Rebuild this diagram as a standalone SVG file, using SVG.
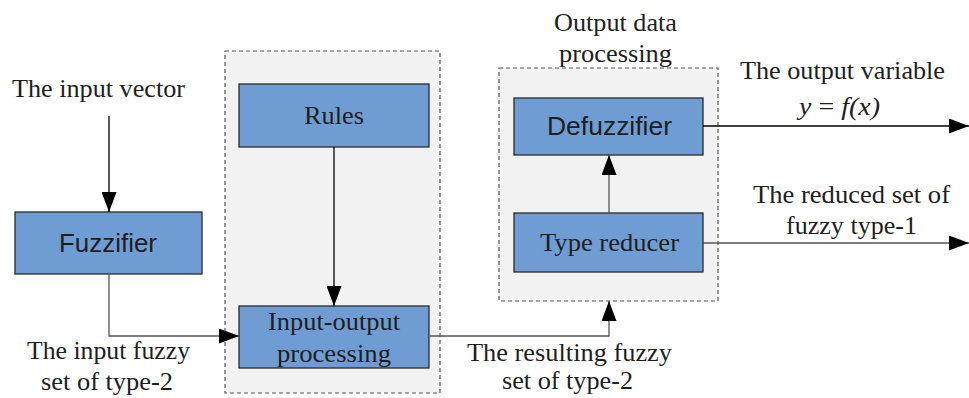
<svg xmlns="http://www.w3.org/2000/svg" width="969" height="398" viewBox="0 0 969 398">
<style>
.grp{fill:#f2f2f2;stroke:#555;stroke-width:1.2;stroke-dasharray:4,3}
.box{fill:#6f9dd3;stroke:#2a2a2a;stroke-width:1.3}
.t{font-family:"Liberation Serif","Times New Roman",serif;font-size:26px;fill:#1e1e1e}
.s{font-family:"Liberation Sans",Arial,sans-serif;font-size:25px;fill:#1e1e1e}
.ln{fill:none;stroke:#000;stroke-width:1.3}
.lg{fill:none;stroke:#555;stroke-width:1.3}
</style>
<defs>
<marker id="ah" markerWidth="20" markerHeight="15" refX="20" refY="7.5" orient="auto" markerUnits="userSpaceOnUse">
<path d="M0,0 L20,7.5 L0,15 Z" fill="#000"/>
</marker>
</defs>
<rect width="969" height="398" fill="#fff"/>
<g id="group-inference">
<rect class="grp" x="225" y="51" width="215" height="342"/>
</g>
<g id="group-output">
<rect class="grp" x="499" y="68" width="219" height="233"/>
<text class="t" x="554" y="31" textLength="123" lengthAdjust="spacingAndGlyphs">Output data</text>
<text class="t" x="559" y="62" textLength="113" lengthAdjust="spacingAndGlyphs">processing</text>
</g>
<g id="fuzzifier">
<rect class="box" x="15" y="212" width="187" height="62"/>
<text class="s" x="59" y="252" textLength="98" lengthAdjust="spacingAndGlyphs">Fuzzifier</text>
</g>
<g id="rules">
<rect class="box" x="239" y="84" width="190" height="63"/>
<text class="t" x="304" y="124" textLength="60" lengthAdjust="spacingAndGlyphs">Rules</text>
</g>
<g id="io-processing">
<rect class="box" x="239" y="306" width="190" height="62"/>
<text class="t" x="268" y="330" textLength="132" lengthAdjust="spacingAndGlyphs">Input-output</text>
<text class="t" x="277" y="362" textLength="114" lengthAdjust="spacingAndGlyphs">processing</text>
</g>
<g id="defuzzifier">
<rect class="box" x="514" y="98" width="189" height="57"/>
<text class="s" x="547" y="135" textLength="125" lengthAdjust="spacingAndGlyphs">Defuzzifier</text>
</g>
<g id="type-reducer">
<rect class="box" x="514" y="213" width="189" height="59"/>
<text class="t" x="540" y="251" textLength="139" lengthAdjust="spacingAndGlyphs">Type reducer</text>
</g>
<g id="connectors">
<path class="ln" d="M109,116 V212" marker-end="url(#ah)"/>
<path class="lg" d="M109,274 V336 H239" marker-end="url(#ah)"/>
<path class="ln" d="M334,147 V306" marker-end="url(#ah)"/>
<path class="lg" d="M429,336 H609 V301" marker-end="url(#ah)"/>
<path class="lg" d="M609,213 V155" marker-end="url(#ah)"/>
<path class="ln" d="M703,126 H969" marker-end="url(#ah)"/>
<path class="lg" d="M703,243 H969" marker-end="url(#ah)"/>
</g>
<g id="labels">
<text class="t" x="12" y="97" textLength="173" lengthAdjust="spacingAndGlyphs">The input vector</text>
<text class="t" x="27" y="359" textLength="163" lengthAdjust="spacingAndGlyphs">The input fuzzy</text>
<text class="t" x="41" y="390" textLength="132" lengthAdjust="spacingAndGlyphs">set of type-2</text>
<text class="t" x="467" y="361" textLength="205" lengthAdjust="spacingAndGlyphs">The resulting fuzzy</text>
<text class="t" x="502" y="389" textLength="131" lengthAdjust="spacingAndGlyphs">set of type-2</text>
<text class="t" x="740" y="79" textLength="205" lengthAdjust="spacingAndGlyphs">The output variable</text>
<text class="t" x="799" y="115" textLength="81" lengthAdjust="spacingAndGlyphs"><tspan font-style="italic">y</tspan> = <tspan font-style="italic">f(x)</tspan></text>
<text class="t" x="753" y="203" textLength="197" lengthAdjust="spacingAndGlyphs">The reduced set of</text>
<text class="t" x="786" y="234" textLength="131" lengthAdjust="spacingAndGlyphs">fuzzy type-1</text>
</g>
</svg>
